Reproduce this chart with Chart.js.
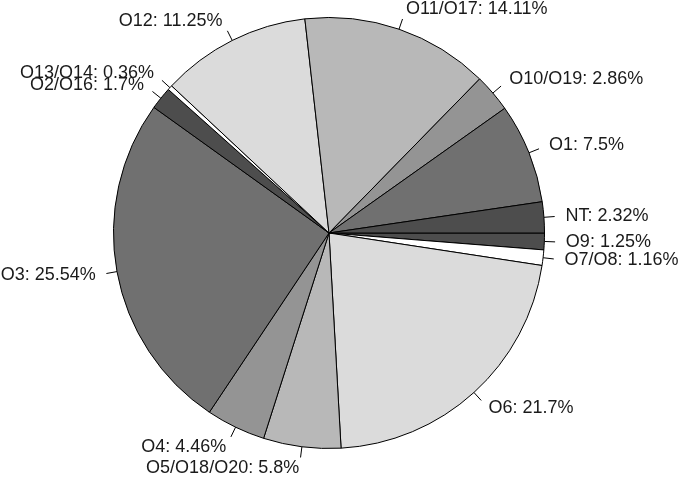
<!DOCTYPE html>
<html>
<head>
<meta charset="utf-8">
<script src="https://cdn.jsdelivr.net/npm/chart.js@4/dist/chart.umd.min.js"></script>
<style>
  html, body { margin: 0; padding: 0; background: #fff; }
  #wrap { width: 680px; height: 479px; }
</style>
</head>
<body>
<div id="wrap"><canvas id="pieChart" width="680" height="479"></canvas></div>
<script>
// slice data, in the order the reference draws them (counterclockwise from 3 o'clock)
const categories = ['NT', 'O1', 'O10/O19', 'O11/O17', 'O12', 'O13/O14', 'O2/O16',
    'O3', 'O4', 'O5/O18/O20', 'O6', 'O7/O8', 'O9'];
const shares = [2.32, 7.5, 2.86, 14.11, 11.25, 0.36, 1.7, 25.54, 4.46, 5.8, 21.7, 1.16, 1.25];
const grays = ['#4d4d4d', '#707070', '#949494', '#b8b8b8', '#dbdbdb', '#ffffff'];

document.addEventListener('DOMContentLoaded', () => {

    const sliceColors = categories.map((c, i) => grays[i % grays.length]);

    // Chart.js goes clockwise, so feed the slices backwards
    const labels = categories.slice().reverse();
    const values = shares.slice().reverse();
    const colors = sliceColors.slice().reverse();

    // labels outside the pie with a short tick, like base R pie()
    const outsideLabels = {
        id: 'outsideLabels',
        afterDatasetsDraw(chart) {
            const ctx = chart.ctx;
            const meta = chart.getDatasetMeta(0);
            ctx.save();
            ctx.font = '18px "Liberation Sans", Arial, sans-serif';
            ctx.fillStyle = '#1a1a1a';
            ctx.strokeStyle = '#000';
            ctx.lineWidth = 1;
            ctx.textBaseline = 'middle';
            meta.data.forEach((arc, i) => {
                const mid = (arc.startAngle + arc.endAngle) / 2;
                const r = arc.outerRadius;
                const cx = Math.cos(mid), sy = Math.sin(mid);
                ctx.beginPath();
                ctx.moveTo(arc.x + r * cx, arc.y + r * sy);
                ctx.lineTo(arc.x + 1.05 * r * cx, arc.y + 1.05 * r * sy);
                ctx.stroke();
                ctx.textAlign = cx > 0 ? 'left' : 'right';
                const tx = arc.x + 1.1 * r * cx;
                const ty = arc.y + 1.1 * r * sy;
                ctx.fillText(labels[i] + ': ' + values[i] + '%', tx, ty);
            });
            ctx.restore();
        }
    };

    const ctx = document.getElementById('pieChart').getContext('2d');
    new Chart(ctx, {
        type: 'pie',
        data: {
            labels: labels,
            datasets: [{
                data: values,
                backgroundColor: colors,
                borderColor: '#000',
                borderWidth: 1
            }]
        },
        options: {
            responsive: false,
            animation: false,
            rotation: 90,
            layout: {
                padding: { left: 113, right: 135, top: 16, bottom: 29 }
            },
            plugins: {
                legend: { display: false },
                tooltip: { enabled: false }
            }
        },
        plugins: [outsideLabels]
    });
});
</script>
</body>
</html>
